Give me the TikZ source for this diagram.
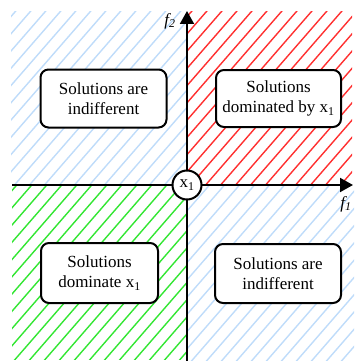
\documentclass[tikz,border=0pt]{standalone}
\usepackage{fontspec}
\setmainfont{Liberation Serif}
\usetikzlibrary{arrows.meta}
\definecolor{hblue}{HTML}{BFDCFA}
\definecolor{hred}{HTML}{FF3030}
\definecolor{hgreen}{HTML}{33E633}
% hatched rectangle: colour, x1, y1, x2, y2 (pixel units)
\newcommand\hatchrect[5]{%
  \begin{scope}
    \clip (#2,#3) rectangle (#4,#5);
    \foreach \s in {-210,-195,...,360}
      \draw[hatchline,#1] (#2+\s,#5+4) -- ++(220,-253);
  \end{scope}}
\tikzset{
  hatchline/.style={line width=1.4pt, line cap=round},
  axis/.style={line width=2pt, -{Triangle[length=13pt,width=14pt]}},
  regionbox/.style={draw, line width=2pt, rounded corners=8pt, fill=white,
    align=center, inner sep=0pt, font=\fontsize{17}{20}\selectfont},
  origin/.style={circle, draw, line width=2pt, fill=white, minimum size=29pt,
    inner sep=0pt, font=\fontsize{17}{20}\selectfont},
  axislabel/.style={inner sep=0pt, font=\fontsize{17}{20}\selectfont\itshape}
}
\begin{document}
\begin{tikzpicture}[x=1pt,y=-1pt]
  \useasboundingbox (0,0) rectangle (354,361);
  % quadrant hatching
  \hatchrect{hblue}{11}{12}{186}{185}
  \hatchrect{hred}{188}{12}{352}{184}
  \hatchrect{hgreen}{12}{186}{186}{359}
  \hatchrect{hblue}{188}{186}{354}{361}
  % axes
  \coordinate (ybot) at (187,361);
  \coordinate (ytop) at (187,11);
  \coordinate (xleft) at (12,185);
  \coordinate (xright) at (353,185);
  \draw[axis] (ybot) -- (ytop);
  \draw[axis] (xleft) -- (xright);
  \node[origin] (x1) at (187,185) {x\textsubscript{1}};
  \node[axislabel] (f2) at (170,21) {f\textsubscript{2}};
  \node[axislabel] (f1) at (346,204) {f\textsubscript{1}};
  % region labels
  \node[regionbox, minimum width=126pt, minimum height=58pt] (tl) at (103.5,98.5)
    {Solutions are\\indifferent};
  \node[regionbox, minimum width=125pt, minimum height=57pt] (tr) at (278.5,98.5)
    {Solutions\\dominated by x\textsubscript{1}};
  \node[regionbox, minimum width=117pt, minimum height=60pt] (bl) at (99.5,273)
    {Solutions\\dominate x\textsubscript{1}};
  \node[regionbox, minimum width=126pt, minimum height=59pt] (br) at (278,273.5)
    {Solutions are\\indifferent};
\end{tikzpicture}
\end{document}
